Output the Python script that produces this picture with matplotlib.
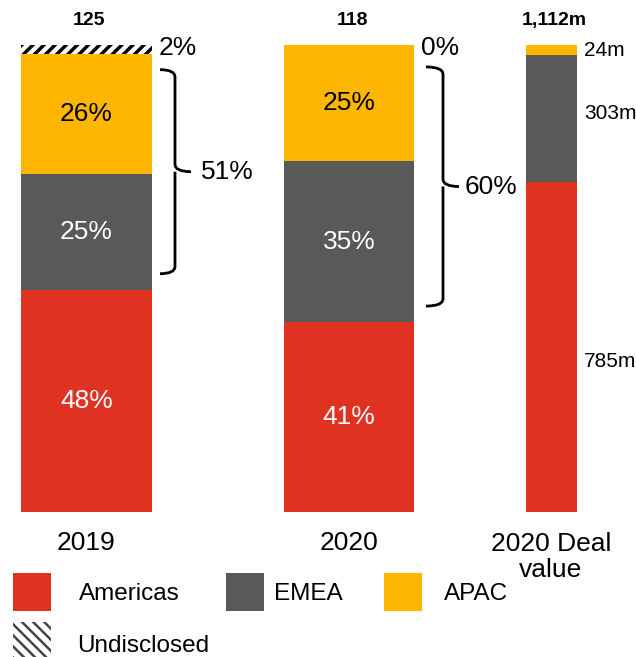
import matplotlib
matplotlib.use('Agg')
import matplotlib.pyplot as plt
from matplotlib.patches import Rectangle, PathPatch
from matplotlib.path import Path

plt.rcParams['font.family'] = ['Liberation Sans', 'DejaVu Sans']
plt.rcParams['hatch.linewidth'] = 2.5

# data
categories = ['2019', '2020', '2020 Deal\nvalue']
totals = ['125', '118', '1,112m']
americas = [48, 41, 785]
emea = [25, 35, 303]
apac = [26, 25, 24]
undisclosed = [2, 0, 0]
seg_labels = [['48%', '25%', '26%'], ['41%', '35%', '25%'], ['785m', '303m', '24m']]
undisc_labels = ['2%', '0%', None]
bracket_labels = ['51%', '60%']

colors = {'Americas': '#E03220', 'EMEA': '#595959', 'APAC': '#FFB600'}

# layout (pixel units on x)
W, H = 636, 657
xpos = [86.5, 349, 551.5]
widths = [131, 130, 51]
bracket_x = [160, 426]        # left end of each bracket
bracket_stem = [15, 17]
bracket_top_inset = [3.3, 4.7]
label_gap = [10, 6]

fig = plt.figure(figsize=(W / 100, H / 100), dpi=100)
ax = fig.add_axes([0, (H - 512) / H, 1, 467 / H])
ax.set_xlim(0, W)
ax.set_ylim(0, 100)
ax.axis('off')

for i in range(3):
    tot = americas[i] + emea[i] + apac[i] + undisclosed[i]
    a = americas[i] / tot * 100
    e = emea[i] / tot * 100
    p = apac[i] / tot * 100
    u = undisclosed[i] / tot * 100
    x = xpos[i]
    w = widths[i]
    ax.bar(x, a, w, color=colors['Americas'])
    ax.bar(x, e, w, bottom=a, color=colors['EMEA'])
    ax.bar(x, p, w, bottom=a + e, color=colors['APAC'])
    if u > 0:
        ax.bar(x, u, w, bottom=a + e + p, color='white', edgecolor='black',
               hatch='///', linewidth=0)

    ax.text(x + 3, 105.2, totals[i], ha='center', va='center', fontsize=14,
            fontweight='bold', clip_on=False)

    if i < 2:
        ax.text(x, a / 2, seg_labels[i][0], ha='center', va='center',
                fontsize=19, color='white')
        ax.text(x, a + e / 2, seg_labels[i][1], ha='center', va='center',
                fontsize=19, color='white')
        ax.text(x, a + e + p / 2, seg_labels[i][2], ha='center', va='center',
                fontsize=19, color='black')
        ax.text(x + w / 2 + 7, 99.3, undisc_labels[i], ha='left', va='center',
                fontsize=19, clip_on=False)

        # bracket over EMEA + APAC
        top = a + e + p - bracket_top_inset[i]
        bot = a + 3.5
        mid = (top + bot) / 2
        x0 = bracket_x[i]
        xv = x0 + bracket_stem[i]
        r = 1.6
        verts = [(x0, top), (xv, top), (xv, top - r),
                 (xv, mid + r), (xv, mid), (xv + 16, mid),
                 (xv, mid), (xv, mid - r),
                 (xv, bot + r), (xv, bot), (x0, bot)]
        codes = [Path.MOVETO, Path.CURVE3, Path.CURVE3,
                 Path.LINETO, Path.CURVE3, Path.CURVE3,
                 Path.MOVETO, Path.LINETO,
                 Path.LINETO, Path.CURVE3, Path.CURVE3]
        ax.add_patch(PathPatch(Path(verts, codes), fill=False, lw=2,
                               edgecolor='black', clip_on=False))
        ax.text(xv + 16 + label_gap[i], mid, bracket_labels[i], ha='left',
                va='center', fontsize=19)
    else:
        ax.text(x + w / 2 + 7, a / 2 - 3, seg_labels[i][0], ha='left',
                va='center', fontsize=15)
        ax.text(x + w / 2 + 7, a + e / 2 + 1.2, seg_labels[i][1], ha='left',
                va='center', fontsize=15)
        ax.text(x + w / 2 + 7, a + e + p / 2, seg_labels[i][2], ha='left',
                va='center', fontsize=15)

# category labels
fig.text(86.5 / W, 1 - 543 / H, categories[0], ha='center', va='center', fontsize=19)
fig.text(349 / W, 1 - 543 / H, categories[1], ha='center', va='center', fontsize=19)
fig.text(551 / W, 1 - 557 / H, categories[2], ha='center', va='center',
         fontsize=19, linespacing=1.1)

# legend
legend_items = [('Americas', colors['Americas'], None, 13, 79),
                ('EMEA', colors['EMEA'], None, 226, 274),
                ('APAC', colors['APAC'], None, 384, 444)]
for name, c, hatch, px, tx in legend_items:
    rect = Rectangle((px / W, 1 - 611 / H), 38 / W, 38 / H,
                     transform=fig.transFigure, facecolor=c, lw=0)
    fig.add_artist(rect)
    fig.text(tx / W, 1 - 594 / H, name, ha='left', va='center', fontsize=17.5)

rect = Rectangle((13 / W, 1 - 658 / H), 38 / W, 36 / H,
                 transform=fig.transFigure, facecolor='white',
                 edgecolor='#454545', hatch='\\\\\\', lw=0)
if hasattr(rect, 'set_hatch_linewidth'):
    rect.set_hatch_linewidth(1.8)
fig.add_artist(rect)
fig.text(77 / W, 1 - 646 / H, 'Undisclosed', ha='left', va='center', fontsize=17.5)

fig.savefig('out.png', dpi=100)
